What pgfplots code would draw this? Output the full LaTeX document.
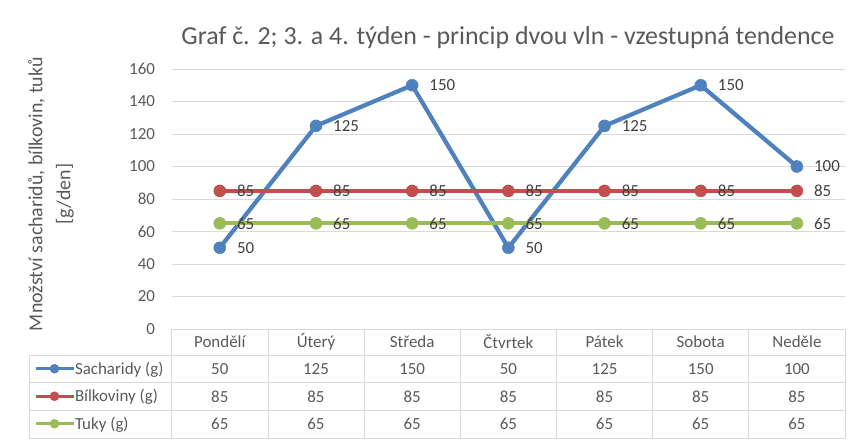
\documentclass[border=0pt]{standalone}
\usepackage{pgfplots}
\pgfplotsset{compat=1.18}
\usepackage{pgfplotstable}
\usepackage{fontspec}
\setmainfont{Carlito}
\definecolor{sblue}{HTML}{4F81BD}
\definecolor{sred}{HTML}{C0504D}
\definecolor{sgreen}{HTML}{9BBB59}
\definecolor{txt}{HTML}{595959}
\definecolor{gridc}{HTML}{D9D9D9}
\definecolor{lbl}{HTML}{404040}

\pgfplotstableread{
x sach bilk tuky
0 50 85 65
1 125 85 65
2 150 85 65
3 50 85 65
4 125 85 65
5 150 85 65
6 100 85 65
}\data

\begin{document}
\begin{tikzpicture}
\path[use as bounding box] (0bp,0bp) rectangle (858bp,445bp);
\begin{axis}[
  at={(171.7bp,116bp)}, anchor=south west,
  scale only axis, width=673.3bp, height=260bp,
  xmin=-0.5, xmax=6.5, ymin=0, ymax=160,
  ytick={0,20,...,160}, xtick=\empty,
  axis line style={draw=none},
  ymajorgrids, grid style={gridc, line width=0.75bp},
  major tick length=0pt,
  /pgf/number format/assume math mode=true,
  tick label style={font=\fontsize{17}{20}\selectfont, text=txt},
  yticklabel style={inner sep=0pt, xshift=-16.5bp},
  clip=false,
  every axis plot/.append style={line width=4.25bp},
  nodes near coords,
  nodes near coords style={anchor=west, inner sep=0pt, xshift=17bp, font=\fontsize{17}{20}\selectfont, text=lbl},
  legend style={at={(axis description cs:-0.2045,-0.1)}, anchor=north west,
    draw=none, fill=none, inner sep=0pt, outer sep=0pt, row sep=0pt,
    font=\fontsize{17}{20}\selectfont, text=txt,
    nodes={inner sep=0pt, minimum height=27.5bp, anchor=west},
    /tikz/every even column/.append style={column sep=3.5bp}},
  legend image code/.code={\draw[line width=3bp, mark size=4.5bp, mark repeat=2,mark phase=2] plot coordinates {(0bp,0bp)(19bp,0bp)(38bp,0bp)};},
]
\addplot[sblue, mark=*, mark size=6bp, mark options={line width=0.5bp, draw=sblue, fill=sblue}] table[x=x,y=sach] {\data};
\addlegendentry{Sacharidy (g)}
\addplot[sred, mark=*, mark size=6bp, mark options={line width=0.5bp, draw=sred, fill=sred}] table[x=x,y=bilk] {\data};
\addlegendentry{Bílkoviny (g)}
\addplot[sgreen, mark=*, mark size=6bp, mark options={line width=0.5bp, draw=sgreen, fill=sgreen}] table[x=x,y=tuky] {\data};
\addlegendentry{Tuky (g)}
\end{axis}

% title
\node[font=\fontsize{26}{30}\selectfont, text=txt, anchor=base] at (508bp,400.7bp) {Graf č. 2; 3. a 4. týden - princip dvou vln - vzestupná tendence};
% y label
\node[rotate=90, align=center, font=\fontsize{20}{28}\selectfont, text=txt] at (51bp,251bp) {Množství sacharidů, bílkovin, tuků\\{}[g/den]};

% data table
\begin{scope}[gridc, line width=0.75bp]
\foreach \k in {0,...,7} {
  \draw ({(171.7+96.19*\k)*1bp}, 7bp) -- ({(171.7+96.19*\k)*1bp}, 116bp);
}
\draw (29.3bp,7bp) -- (29.3bp,90bp);
\foreach \yy in {90,62.5,35,7} {
  \draw (29.3bp,\yy bp) -- (845bp,\yy bp);
}
\end{scope}
\foreach \d [count=\i from 0] in {Pondělí,Úterý,Středa,Čtvrtek,Pátek,Sobota,Neděle} {
  \node[font=\fontsize{17}{20}\selectfont, text=txt] at ({(171.7+96.19*(\i+0.5))*1bp},103bp) {\d};
}
\foreach \v [count=\i from 0] in {50,125,150,50,125,150,100} {
  \node[font=\fontsize{17}{20}\selectfont, text=txt] at ({(171.7+96.19*(\i+0.5))*1bp},76bp) {\v};
}
\foreach \v [count=\i from 0] in {85,85,85,85,85,85,85} {
  \node[font=\fontsize{17}{20}\selectfont, text=txt] at ({(171.7+96.19*(\i+0.5))*1bp},48.5bp) {\v};
}
\foreach \v [count=\i from 0] in {65,65,65,65,65,65,65} {
  \node[font=\fontsize{17}{20}\selectfont, text=txt] at ({(171.7+96.19*(\i+0.5))*1bp},21bp) {\v};
}
\end{tikzpicture}
\end{document}
